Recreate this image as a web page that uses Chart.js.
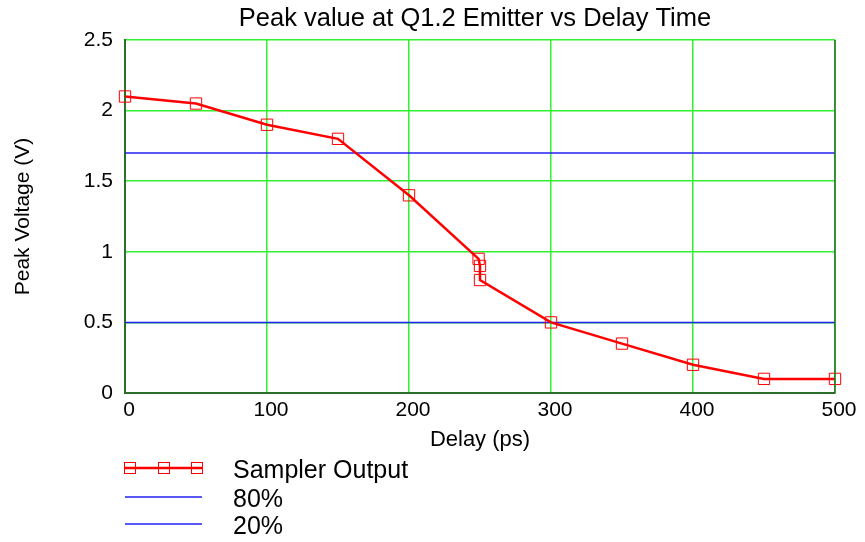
<!DOCTYPE html>
<html>
<head>
<meta charset="utf-8">
<script src="https://cdn.jsdelivr.net/npm/chart.js@4/dist/chart.umd.min.js"></script>
<style>
  html, body { margin: 0; padding: 0; background: #ffffff; }
  #wrap { width: 865px; height: 542px; position: relative; }
</style>
</head>
<body>
<div id="wrap"><canvas id="grafico"></canvas></div>
<script>
// valores
const delayPs = [0, 50, 100, 150, 200, 249, 250, 250, 300, 350, 400, 450, 500];
const samplerOutput = [2.1, 2.05, 1.9, 1.8, 1.4, 0.95, 0.9, 0.8, 0.5, 0.35, 0.2, 0.1, 0.1];
const level80 = 1.7;
const level20 = 0.5;
const xRange = [0, 500];
const yRange = [0, 2.5];
const seriesNames = ['Sampler Output', '80%', '20%'];
const chartTitle = 'Peak value at Q1.2 Emitter vs Delay Time';

const fonte = 'Liberation Sans, Arial, sans-serif';
const verdeGrade = '#30f030';

// título centrado sobre a área do gráfico, borda e legenda embaixo
const extrasPlugin = {
    id: 'extras',
    afterDraw(chart) {
        const ctx = chart.ctx;
        const area = chart.chartArea;
        ctx.save();
        ctx.fillStyle = '#000';
        ctx.font = '25.5px ' + fonte;
        ctx.textAlign = 'center';
        ctx.textBaseline = 'middle';
        ctx.fillText(chartTitle, (area.left + area.right) / 2 - 5, 19);

        // borda direita
        ctx.strokeStyle = '#2a6e2a';
        ctx.lineWidth = 1.5;
        ctx.beginPath();
        ctx.moveTo(area.right, area.top);
        ctx.lineTo(area.right, area.bottom);
        ctx.stroke();

        const linhas = [468, 497, 524];
        chart.data.datasets.forEach((ds, i) => {
            const y = linhas[i];
            ctx.strokeStyle = ds.borderColor;
            ctx.lineWidth = ds.borderWidth;
            ctx.beginPath();
            ctx.moveTo(125, y);
            ctx.lineTo(202, y);
            ctx.stroke();
            if (ds.pointRadius > 0) {
                ctx.lineWidth = 1;
                [130, 164, 197].forEach((px) => {
                    ctx.strokeRect(px - 5.5, y - 5.5, 11, 11);
                });
            }
            ctx.fillStyle = '#000';
            ctx.font = '25px ' + fonte;
            ctx.textBaseline = 'middle';
            ctx.textAlign = 'left';
            ctx.fillText(ds.label, 233, y + 3);
        });
        ctx.restore();
    }
};

function plotar() {
    const ctx = document.getElementById('grafico').getContext('2d');
    const dados = delayPs.map((x, i) => ({ x: x, y: samplerOutput[i] }));
    const linha80 = xRange.map((x) => ({ x: x, y: level80 }));
    const linha20 = xRange.map((x) => ({ x: x, y: level20 }));

    new Chart(ctx, {
        type: 'line',
        data: {
            datasets: [
                {
                    label: seriesNames[0],
                    data: dados,
                    borderColor: '#ff0000',
                    borderWidth: 2.5,
                    pointStyle: 'rect',
                    pointRadius: 8,
                    pointBorderWidth: 1,
                    pointBorderColor: '#ff0000',
                    pointBackgroundColor: 'rgba(0,0,0,0)',
                    fill: false,
                    tension: 0,
                    clip: false
                },
                {
                    label: seriesNames[1],
                    data: linha80,
                    borderColor: '#2020f0',
                    borderWidth: 1.5,
                    pointRadius: 0,
                    fill: false
                },
                {
                    label: seriesNames[2],
                    data: linha20,
                    borderColor: '#2020f0',
                    borderWidth: 1.5,
                    pointRadius: 0,
                    fill: false
                }
            ]
        },
        options: {
            animation: false,
            responsive: true,
            maintainAspectRatio: false,
            layout: { padding: { left: 0, right: 30, top: 40, bottom: 89 } },
            plugins: {
                legend: { display: false },
                tooltip: { enabled: false },
                title: { display: false }
            },
            scales: {
                x: {
                    type: 'linear',
                    min: xRange[0],
                    max: xRange[1],
                    afterFit: (s) => { s.height = 60; },
                    title: {
                        display: true,
                        text: 'Delay (ps)',
                        color: '#000',
                        font: { family: fonte, size: 22 },
                        padding: { top: 0, bottom: 0 }
                    },
                    ticks: {
                        stepSize: 100,
                        color: '#000',
                        font: { family: fonte, size: 21 },
                        padding: 5,
                        labelOffset: 4,
                        maxRotation: 0
                    },
                    grid: {
                        color: verdeGrade,
                        lineWidth: 1.5,
                        drawTicks: false
                    },
                    border: { color: '#2a6e2a', width: 2 }
                },
                y: {
                    min: yRange[0],
                    max: yRange[1],
                    afterFit: (s) => { s.width = 125; },
                    title: {
                        display: true,
                        text: 'Peak Voltage (V)',
                        color: '#000',
                        font: { family: fonte, size: 21 },
                        padding: { top: 11, bottom: 0 }
                    },
                    ticks: {
                        stepSize: 0.5,
                        color: '#000',
                        font: { family: fonte, size: 21 },
                        padding: 12,
                        callback: (v) => String(v)
                    },
                    grid: {
                        color: verdeGrade,
                        lineWidth: 1.5,
                        drawTicks: false
                    },
                    border: { color: '#2a6e2a', width: 2 }
                }
            }
        },
        plugins: [extrasPlugin]
    });
}

window.addEventListener('DOMContentLoaded', plotar);
</script>
</body>
</html>
